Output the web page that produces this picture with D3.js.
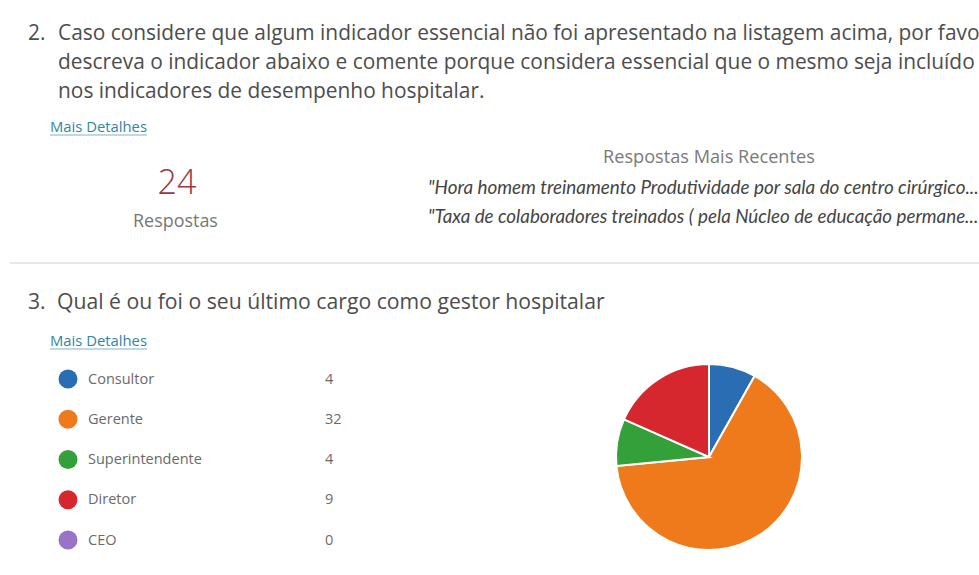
<!DOCTYPE html>
<html>
<head>
<meta charset="utf-8">
<script src="https://cdn.jsdelivr.net/npm/d3@7"></script>
<style>
  html, body { margin: 0; padding: 0; background: #ffffff; }
  svg { display: block; }
</style>
</head>
<body>
<svg id="chart" width="979" height="575"></svg>
<script>
// ---------- data ----------
const q2Number = "2.";
const q2Lines = [
  "Caso considere que algum indicador essencial não foi apresentado na listagem acima, por favor",
  "descreva o indicador abaixo e comente porque considera essencial que o mesmo seja incluído",
  "nos indicadores de desempenho hospitalar."
];
const q2Count = 24;
const q2CountLabel = "Respostas";
const recentTitle = "Respostas Mais Recentes";
const recentAnswers = [
  "\"Hora homem treinamento Produtividade por sala do centro cirúrgico...",
  "\"Taxa de colaboradores treinados ( pela Núcleo de educação permane..."
];
const moreDetails = "Mais Detalhes";
const q3Number = "3.";
const q3Title = "Qual é ou foi o seu último cargo como gestor hospitalar";
const categories = ["Consultor", "Gerente", "Superintendente", "Diretor", "CEO"];
const values = [4, 32, 4, 9, 0];
const colors = ["#2a6db3", "#ee7a1c", "#33a03a", "#d6262e", "#9a72c6"];

// ---------- drawing ----------
const svg = d3.select("#chart");
const baseFont = "'Open Sans', 'Noto Sans', sans-serif";
const titleColor = "#4d4d4d";

// fit a text element to a target width by adjusting its font size
function fit(sel, width) {
  const node = sel.node();
  const fs = parseFloat(sel.attr("font-size"));
  const len = node.getComputedTextLength();
  sel.attr("font-size", (fs * width / len).toFixed(2));
  return sel;
}

// Question 2
const measure = svg.append("text").attr("x", 58).attr("y", 71)
  .attr("font-family", baseFont).attr("font-size", 18)
  .text(q2Lines[1]);
fit(measure, 917);
const q2Size = measure.attr("font-size");
measure.remove();
svg.append("text").attr("x", 28).attr("y", 40)
  .attr("font-family", baseFont).attr("font-size", q2Size).attr("fill", titleColor)
  .text(q2Number);
svg.selectAll("text.q2").data(q2Lines).join("text")
  .attr("class", "q2")
  .attr("x", 58)
  .attr("y", (d, i) => 40 + i * 29)
  .attr("font-family", baseFont).attr("font-size", q2Size)
  .attr("fill", titleColor)
  .text(d => d);

function moreLink(y) {
  const t = svg.append("text").attr("x", 50).attr("y", y)
    .attr("font-family", baseFont).attr("font-size", 11).attr("fill", "#2f86a6")
    .text(moreDetails);
  fit(t, 97);
  svg.append("line").attr("x1", 50).attr("x2", 147)
    .attr("y1", y + 3).attr("y2", y + 3)
    .attr("stroke", "#7fb3c8").attr("stroke-width", 1);
}
moreLink(132);

// response count
svg.append("text").attr("x", 177).attr("y", 194)
  .attr("text-anchor", "middle")
  .attr("font-family", baseFont).attr("font-weight", 300)
  .attr("font-size", 34).attr("fill", "#9a3a40")
  .text(q2Count);
fit(svg.append("text").attr("x", 133).attr("y", 227)
  .attr("font-family", baseFont).attr("font-size", 14).attr("fill", "#777")
  .text(q2CountLabel), 85);

// recent answers
fit(svg.append("text").attr("x", 603).attr("y", 163)
  .attr("font-family", baseFont).attr("font-size", 14).attr("fill", "#7a7a7a")
  .text(recentTitle), 212);
const ansSel = svg.selectAll("text.ans").data(recentAnswers).join("text")
  .attr("class", "ans")
  .attr("x", 428)
  .attr("y", (d, i) => 194 + i * 29)
  .attr("font-family", "Lato, 'Open Sans', sans-serif")
  .attr("font-style", "italic")
  .attr("font-size", 12)
  .attr("fill", "#444")
  .text(d => d);
ansSel.each(function() { fit(d3.select(this), 551); });

// separator
svg.append("line").attr("x1", 10).attr("x2", 979).attr("y1", 263).attr("y2", 263)
  .attr("stroke", "#e8e8e8").attr("stroke-width", 2);

// Question 3
const q3 = svg.append("text").attr("x", 57).attr("y", 309)
  .attr("font-family", baseFont).attr("font-size", 18).attr("fill", titleColor)
  .text("Qual é ou foi o seu último cargo como gestor");
fit(q3, 443);
q3.text(q3Title);
svg.append("text").attr("x", 28).attr("y", 309)
  .attr("font-family", baseFont).attr("font-size", q3.attr("font-size")).attr("fill", titleColor)
  .text(q3Number);
moreLink(346);

// legend
const legendY = d3.scalePoint().domain(categories).range([379, 540]);
const color = d3.scaleOrdinal().domain(categories).range(colors);
const lg = svg.append("g");
lg.selectAll("circle").data(categories).join("circle")
  .attr("cx", 68).attr("cy", d => legendY(d)).attr("r", 9.5)
  .attr("fill", d => color(d));
const labSel = lg.selectAll("text.lab").data(categories).join("text")
  .attr("class", "lab")
  .attr("x", 88).attr("y", d => legendY(d) + 4.5)
  .attr("font-family", baseFont).attr("font-size", 12).attr("fill", "#6a6a6a")
  .text(d => d);
// size labels so "Superintendente" spans its measured width
const sup = labSel.filter(d => d === "Superintendente");
fit(sup, 114);
labSel.attr("font-size", sup.attr("font-size"));
lg.selectAll("text.val").data(values).join("text")
  .attr("class", "val")
  .attr("x", 325).attr("y", (d, i) => legendY(categories[i]) + 4.5)
  .attr("font-family", baseFont).attr("font-size", sup.attr("font-size")).attr("fill", "#6a6a6a")
  .text(d => d);

// pie
const pie = d3.pie().sort(null).value(d => d.v);
const arcs = pie(categories.map((c, i) => ({ c, v: values[i] })));
const arc = d3.arc().innerRadius(0).outerRadius(93);
svg.append("g").attr("transform", "translate(709,457)")
  .selectAll("path").data(arcs.filter(a => a.data.v > 0)).join("path")
  .attr("d", arc)
  .attr("fill", d => color(d.data.c))
  .attr("stroke", "#ffffff").attr("stroke-width", 2);
</script>
</body>
</html>
